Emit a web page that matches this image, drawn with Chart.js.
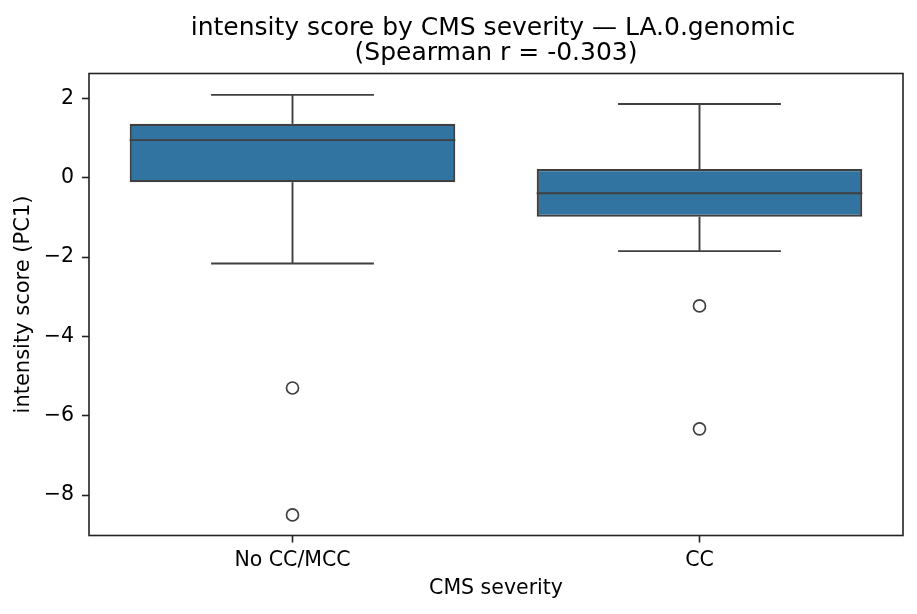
<!DOCTYPE html>
<html>
<head>
<meta charset="utf-8">
<script src="https://cdn.jsdelivr.net/npm/chart.js@4"></script>
<style>
  html, body { margin: 0; padding: 0; background: #fff; }
  #wrap { width: 917px; height: 614px; }
</style>
</head>
<body>
<div id="wrap"><canvas id="chart" width="917" height="614"></canvas></div>
<script>
// boxplot stats
const categories = ['No CC/MCC', 'CC'];
const whiskerLow = [-2.16, -1.85];
const q1 = [-0.11, -0.98];
const median = [0.95, -0.39];
const q3 = [1.36, 0.22];
const whiskerHigh = [2.09, 1.86];
const outliers = [[-5.30, -8.50], [-3.23, -6.33]];
const yTickValues = [2, 0, -2, -4, -6, -8];
const titleLines = ['intensity score by CMS severity \u2014 LA.0.genomic', '(Spearman r = -0.303)'];

const BOX_FILL = '#3274a1';
const LINE = '#3f3f3f';
const FONT = 'DejaVu Sans';

// whiskers, caps and medians on top of the floating bars
const boxParts = {
  id: 'boxParts',
  afterDatasetsDraw(chart) {
    const { ctx, scales: { x, y } } = chart;
    const half = chart.getDatasetMeta(0).data[0].width / 2;
    ctx.save();
    ctx.strokeStyle = LINE;
    ctx.lineWidth = 1.9;
    categories.forEach((c, i) => {
      const cx = x.getPixelForValue(i);
      const seg = (x0, y0, x1, y1) => { ctx.beginPath(); ctx.moveTo(x0, y0); ctx.lineTo(x1, y1); ctx.stroke(); };
      seg(cx, y.getPixelForValue(q3[i]), cx, y.getPixelForValue(whiskerHigh[i]));
      seg(cx, y.getPixelForValue(q1[i]), cx, y.getPixelForValue(whiskerLow[i]));
      seg(cx - half / 2, y.getPixelForValue(whiskerHigh[i]), cx + half / 2, y.getPixelForValue(whiskerHigh[i]));
      seg(cx - half / 2, y.getPixelForValue(whiskerLow[i]), cx + half / 2, y.getPixelForValue(whiskerLow[i]));
      seg(cx - half, y.getPixelForValue(median[i]), cx + half, y.getPixelForValue(median[i]));
    });
    ctx.restore();
  }
};

// spines all round + title centred over the axes (matplotlib style)
const frame = {
  id: 'frame',
  afterDraw(chart) {
    const { ctx, chartArea: a } = chart;
    ctx.save();
    ctx.strokeStyle = '#222';
    ctx.lineWidth = 1.6;
    ctx.strokeRect(a.left, a.top, a.right - a.left, a.bottom - a.top);
    ctx.fillStyle = '#000';
    ctx.font = '25px "' + FONT + '"';
    ctx.textAlign = 'center';
    ctx.textBaseline = 'alphabetic';
    const cx = (a.left + a.right) / 2;
    ctx.fillText(titleLines[0], cx - 3, 35);
    ctx.fillText(titleLines[1], cx, 60);
    ctx.restore();
  }
};

const flierPoints = [];
outliers.forEach((vals, i) => vals.forEach(v => flierPoints.push({ x: categories[i], y: v })));

new Chart(document.getElementById('chart'), {
  data: {
    labels: categories,
    datasets: [
      {
        type: 'bar',
        data: categories.map((c, i) => [q1[i], q3[i]]),
        backgroundColor: BOX_FILL,
        borderColor: LINE,
        borderWidth: 2.2,
        borderSkipped: false,
        barPercentage: 0.8,
        categoryPercentage: 1.0,
      },
      {
        type: 'line',
        data: flierPoints,
        showLine: false,
        pointRadius: 6,
        pointBorderWidth: 1.7,
        pointBorderColor: LINE,
        pointBackgroundColor: 'rgba(0,0,0,0)',
      },
    ],
  },
  options: {
    responsive: false, animation: false,
    layout: { padding: { left: 0, right: 14, top: 73.5, bottom: 0 } },
    plugins: {
      legend: { display: false },
      tooltip: { enabled: false },
      title: { display: false },
    },
    scales: {
      x: {
        type: 'category',
        offset: true,
        border: { display: false },
        grid: { display: true, offset: false, drawOnChartArea: false, drawTicks: true, tickLength: 7, tickWidth: 1.6, color: '#222' },
        ticks: { color: '#000', font: { family: FONT, size: 20.5 }, padding: 6 },
        title: { display: true, text: 'CMS severity', color: '#000', font: { family: FONT, size: 20.5 }, padding: { top: 0, bottom: 13 } },
        afterFit(s) { s.height = 78.5; },
      },
      y: {
        type: 'linear',
        min: -9.02, max: 2.63,
        border: { display: false },
        grid: { display: true, drawOnChartArea: false, drawTicks: true, tickLength: 7, tickWidth: 1.6, color: '#222' },
        ticks: {
          color: '#000', font: { family: FONT, size: 20.5 }, padding: 8,
          callback: v => String(v).replace('-', '\u2212'),
        },
        afterBuildTicks(s) { s.ticks = yTickValues.map(v => ({ value: v })); },
        title: { display: true, text: 'intensity score (PC1)', color: '#000', font: { family: FONT, size: 21 }, padding: { top: 11, bottom: 0 } },
        afterFit(s) { s.width = 89; },
      },
    },
  },
  plugins: [boxParts, frame],
});
</script>
</body>
</html>
